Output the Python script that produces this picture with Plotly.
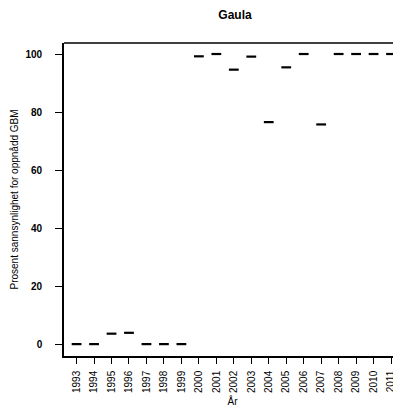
import plotly.graph_objects as go

# data
years = list(range(1993, 2012))
prosent = [0.1, 0.1, 3.7, 4.0, 0.1, 0.1, 0.1, 99.4, 100.2, 94.8, 99.3, 76.7,
           95.6, 100.2, 75.9, 100.2, 100.2, 100.2, 100.2]
tick_labels = [str(y) for y in years]

# page body has an 8px margin, so the figure is a little smaller than the window
W, H, OFF = 393, 406, 8

fig = go.Figure()
fig.add_trace(go.Scatter(
    x=years, y=prosent, mode="markers",
    marker=dict(symbol="line-ew", size=7, line=dict(width=2.2, color="black")),
    hoverinfo="x+y", showlegend=False,
))

# top border of the box (right border falls outside the window)
fig.add_shape(type="line", xref="paper", yref="paper", x0=0, x1=1, y0=1, y1=1,
              line=dict(color="black", width=1.6))

fig.update_layout(
    width=W, height=H,
    margin=dict(l=64 - OFF, r=0, t=43 - OFF, b=58, autoexpand=False),
    paper_bgcolor="white", plot_bgcolor="white",
    font=dict(family="Liberation Sans, Arial", color="black"),
    title=dict(text="<b>Gaula</b>", x=(235 - OFF) / W, xanchor="center", y=1 - (15 - OFF) / H,
               yanchor="middle", font=dict(size=12)),
    xaxis=dict(
        range=[1992.28, 2011.57], tickmode="array", tickvals=years, ticktext=tick_labels,
        tickangle=-90, ticks="outside", ticklen=6, tickwidth=1, tickcolor="black",
        showline=True, linecolor="black", linewidth=1.6, showgrid=False, zeroline=False,
        tickfont=dict(size=10), ticklabelstandoff=3,
        title=dict(text="År", font=dict(size=10), standoff=6),
    ),
    yaxis=dict(
        range=[-4, 104], tickvals=[0, 20, 40, 60, 80, 100],
        ticktext=["<b>0</b>", "<b>20</b>", "<b>40</b>", "<b>60</b>", "<b>80</b>", "<b>100</b>"],
        ticks="outside", ticklen=7, tickwidth=1, tickcolor="black",
        showline=True, linecolor="black", linewidth=1.6, showgrid=False, zeroline=False,
        tickfont=dict(size=10), ticklabelstandoff=11,
        title=dict(text="Prosent sannsynlighet for oppnådd GBM", font=dict(size=10), standoff=5),
    ),
)

fig.write_html("out.html")
